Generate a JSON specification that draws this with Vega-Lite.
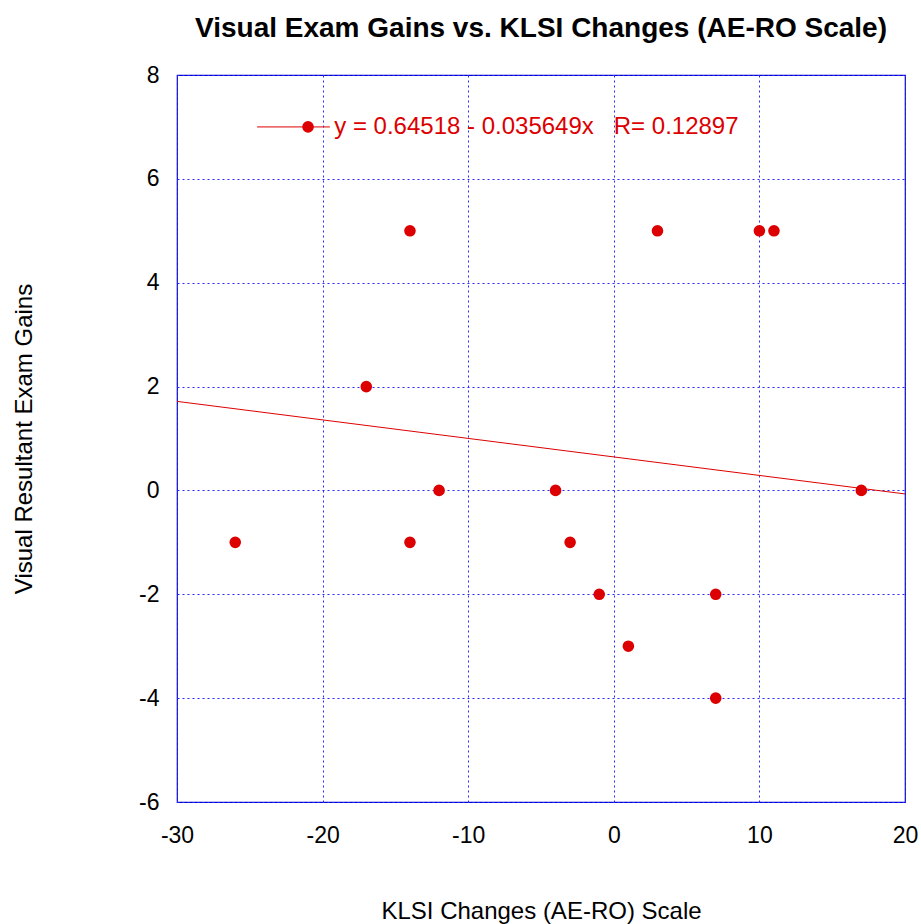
{
  "$schema": "https://vega.github.io/schema/vega-lite/v6.json",
  "autosize": "none",
  "width": 728,
  "height": 727,
  "padding": {"left": 177, "top": 75, "right": 16, "bottom": 122},
  "background": "white",
  "config": {
    "font": "Liberation Sans",
    "view": {"stroke": "#0000cc", "strokeWidth": 1.2}
  },
  "title": {
    "text": "Visual Exam Gains vs. KLSI Changes (AE-RO Scale)",
    "fontSize": 28,
    "fontWeight": "bold",
    "font": "Liberation Sans",
    "color": "black",
    "anchor": "middle",
    "offset": 21
  },
  "datasets": {
    "points": [
      {"klsi": -26, "gain": -1},
      {"klsi": -17, "gain": 2},
      {"klsi": -14, "gain": 5},
      {"klsi": -14, "gain": -1},
      {"klsi": -12, "gain": 0},
      {"klsi": -4, "gain": 0},
      {"klsi": -3, "gain": -1},
      {"klsi": -1, "gain": -2},
      {"klsi": 1, "gain": -3},
      {"klsi": 3, "gain": 5},
      {"klsi": 7, "gain": -2},
      {"klsi": 7, "gain": -4},
      {"klsi": 10, "gain": 5},
      {"klsi": 11, "gain": 5},
      {"klsi": 17, "gain": 0}
    ],
    "fit": [
      {"klsi": -30, "gain": 1.71465},
      {"klsi": 20, "gain": -0.0678}
    ],
    "key": [
      {"x1": -24.5, "x2": -19.5, "px": -21, "tx": -19.2, "y": 7, "label": "y = 0.64518 - 0.035649x\u00a0\u00a0\u00a0R= 0.12897"}
    ]
  },
  "layer": [
    {
      "data": {"name": "fit"},
      "mark": {"type": "line", "color": "#dd0000", "strokeWidth": 1, "clip": true},
      "encoding": {
        "x": {
          "field": "klsi", "type": "quantitative",
          "scale": {"domain": [-30, 20], "nice": false, "zero": false},
          "axis": {
            "title": "KLSI Changes (AE-RO) Scale",
            "titleFont": "Liberation Sans",
            "titleFontSize": 24,
            "titleFontWeight": "normal",
            "titleColor": "black",
            "titlePadding": 52,
            "values": [-30, -20, -10, 0, 10, 20],
            "labelExpr": "toString(datum.value)",
            "labelFont": "Liberation Sans",
            "labelFontSize": 23,
            "labelColor": "black",
            "labelPadding": 22,
            "labelFlush": false,
            "domain": false,
            "ticks": false,
            "grid": true,
            "gridColor": "#2828ff",
            "gridDash": [2, 3],
            "gridWidth": 1
          }
        },
        "y": {
          "field": "gain", "type": "quantitative",
          "scale": {"domain": [-6, 8], "nice": false, "zero": false},
          "axis": {
            "title": "Visual Resultant Exam Gains",
            "titleFont": "Liberation Sans",
            "titleFontSize": 24,
            "titleFontWeight": "normal",
            "titleColor": "black",
            "titlePadding": 102,
            "values": [-6, -4, -2, 0, 2, 4, 6, 8],
            "labelExpr": "toString(datum.value)",
            "labelFont": "Liberation Sans",
            "labelFontSize": 23,
            "labelColor": "black",
            "labelPadding": 18,
            "labelFlush": false,
            "domain": false,
            "ticks": false,
            "grid": true,
            "gridColor": "#2828ff",
            "gridDash": [2, 3],
            "gridWidth": 1
          }
        }
      }
    },
    {
      "data": {"name": "points"},
      "mark": {"type": "circle", "color": "#dd0000", "opacity": 1, "size": 135},
      "encoding": {
        "x": {"field": "klsi", "type": "quantitative"},
        "y": {"field": "gain", "type": "quantitative"}
      }
    },
    {
      "data": {"name": "key"},
      "mark": {"type": "rule", "color": "#dd0000", "strokeWidth": 1},
      "encoding": {
        "x": {"field": "x1", "type": "quantitative"},
        "x2": {"field": "x2"},
        "y": {"field": "y", "type": "quantitative"}
      }
    },
    {
      "data": {"name": "key"},
      "mark": {"type": "circle", "color": "#dd0000", "opacity": 1, "size": 135},
      "encoding": {
        "x": {"field": "px", "type": "quantitative"},
        "y": {"field": "y", "type": "quantitative"}
      }
    },
    {
      "data": {"name": "key"},
      "mark": {"type": "text", "color": "#dd0000", "font": "Liberation Sans", "fontSize": 24, "align": "left", "baseline": "middle"},
      "encoding": {
        "x": {"field": "tx", "type": "quantitative"},
        "y": {"field": "y", "type": "quantitative"},
        "text": {"field": "label"}
      }
    }
  ]
}
